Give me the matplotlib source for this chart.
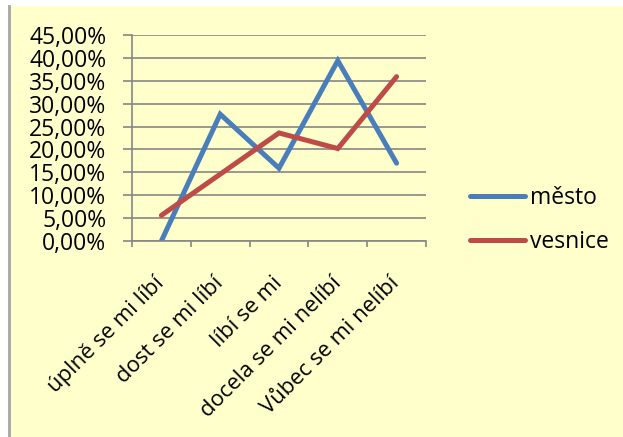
import matplotlib.pyplot as plt
from matplotlib.patches import Rectangle
from matplotlib.lines import Line2D
from matplotlib.ticker import FixedLocator, FuncFormatter

# data (percent)
kategorie = ['úplně se mi líbí', 'dost se mi líbí', 'líbí se mi',
             'docela se mi nelíbí', 'Vůbec se mi nelíbí']
mesto = [0.0, 27.7, 15.9, 39.4, 17.0]
vesnice = [5.6, 14.6, 23.6, 20.2, 35.9]
y_ticks = [0, 5, 10, 15, 20, 25, 30, 35, 40, 45]

plt.rcParams['font.family'] = ['Open Sans', 'DejaVu Sans']

W, H = 623, 437
fig = plt.figure(figsize=(W / 100, H / 100), dpi=100)
fig.patch.set_facecolor('white')

# pale yellow chart area + gray left border
fig.patches.append(Rectangle((9 / W, 0), 1 - 9 / W, 1 - 6 / H, transform=fig.transFigure,
                             facecolor='#FFFFCC', edgecolor='none', zorder=-2))
fig.lines.append(Line2D([8.5 / W, 8.5 / W], [0, 1 - 6 / H], transform=fig.transFigure,
                        color='#A6A6A6', lw=2, zorder=-1))

ax = fig.add_axes([132 / W, 1 - 241 / H, 294 / W, 206 / H])
ax.set_facecolor('none')
ax.set_zorder(2)

x = list(range(len(kategorie)))
ax.plot(x, mesto, color='#4A7EBB', lw=3.6, solid_capstyle='round',
        solid_joinstyle='miter', label='město')
ax.plot(x, vesnice, color='#BE4B48', lw=3.6, solid_capstyle='round',
        solid_joinstyle='miter', label='vesnice')

ax.set_xlim(-0.5, len(kategorie) - 0.5)
ax.set_ylim(0, 45)

ax.yaxis.set_major_locator(FixedLocator(y_ticks))
ax.yaxis.set_major_formatter(FuncFormatter(lambda v, p: f'{v:.2f}%'.replace('.', ',')))
ax.grid(axis='y', color='#868686', lw=1.2)
ax.set_axisbelow(True)

ax.xaxis.set_major_locator(FixedLocator([i - 0.5 for i in range(len(kategorie) + 1)]))
ax.xaxis.set_major_formatter(FuncFormatter(lambda v, p: ''))
ax.set_xticks(x, minor=True)
ax.set_xticklabels(kategorie, minor=True, rotation=45, ha='right',
                   va='center', rotation_mode='anchor')

ax.tick_params(axis='y', direction='out', length=6.5, width=1.2, color='#868686',
               labelsize=16.5, pad=12)
ax.tick_params(axis='x', which='major', direction='out', length=4.5, width=1.2,
               color='#868686')
ax.tick_params(axis='x', which='minor', length=0, labelsize=15.8, pad=28)

for s in ['top', 'right']:
    ax.spines[s].set_visible(False)
for s in ['left', 'bottom']:
    ax.spines[s].set_color('#868686')
    ax.spines[s].set_linewidth(1.2)

fig.legend(loc='center left', bbox_to_anchor=(470 / W, 1 - 220 / H), frameon=False,
           fontsize=16.5, handlelength=2.4, handletextpad=0.2, labelspacing=0.85,
           borderpad=0, borderaxespad=0)

fig.savefig('out.png', dpi=100)
